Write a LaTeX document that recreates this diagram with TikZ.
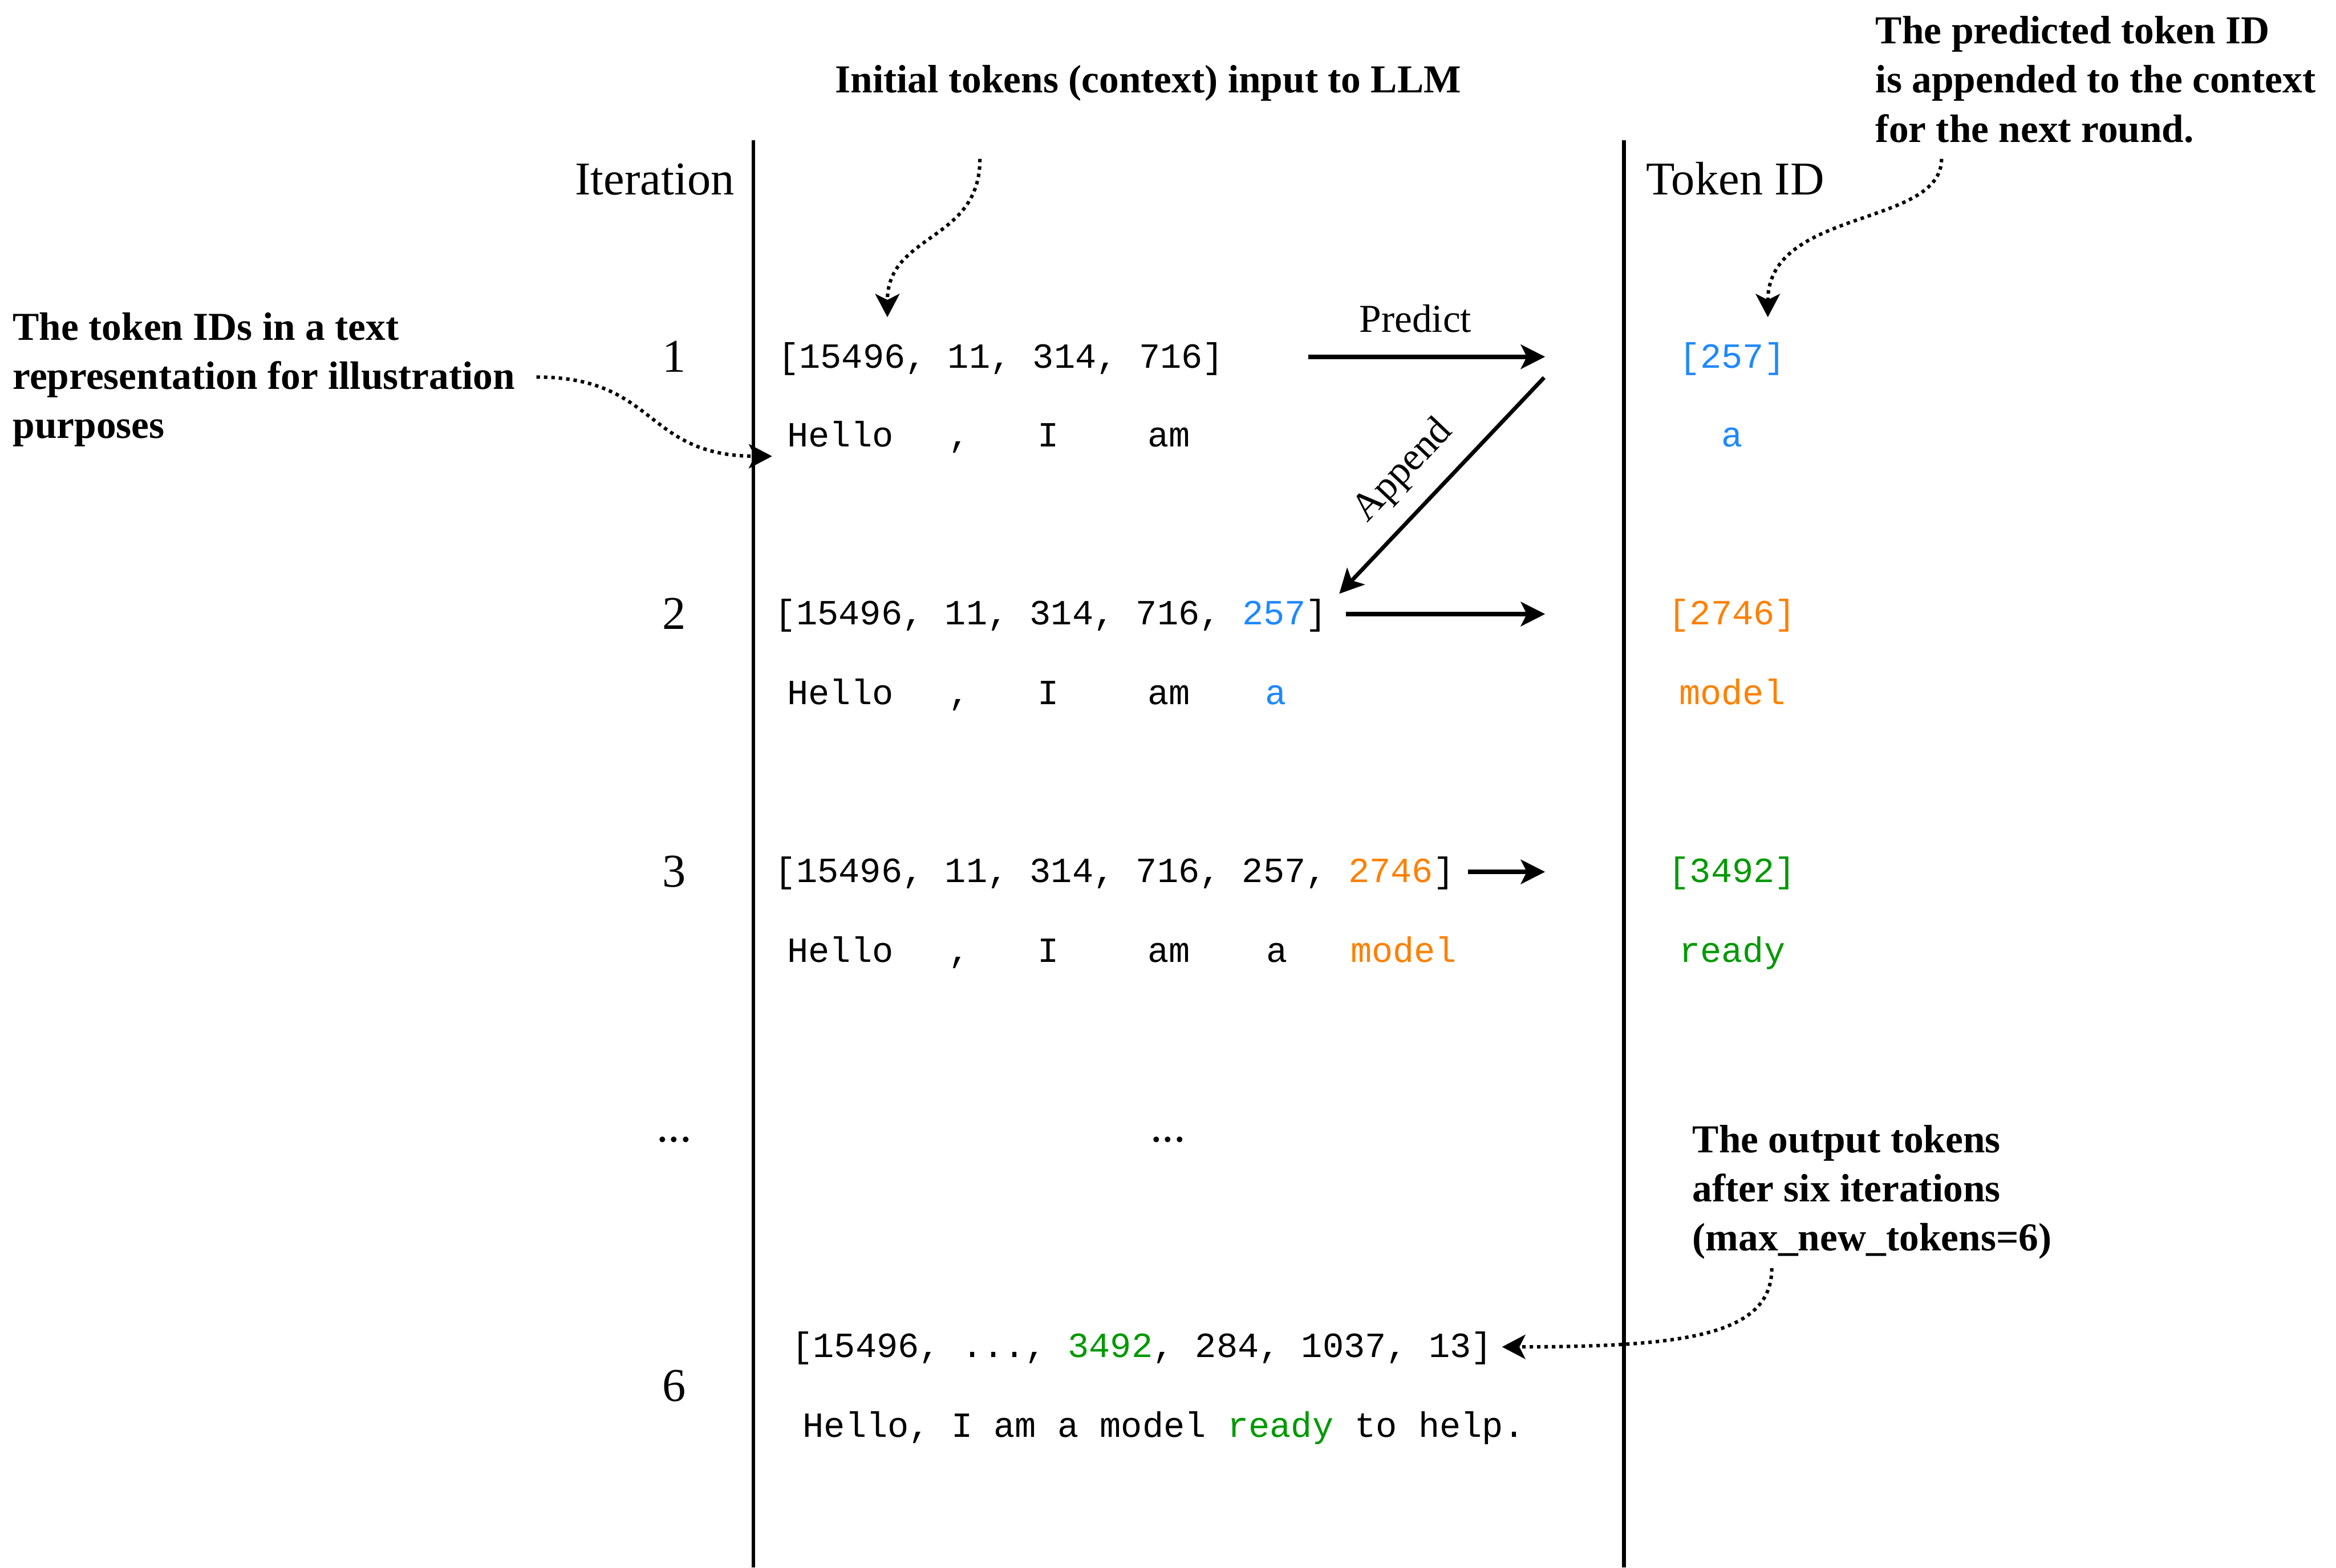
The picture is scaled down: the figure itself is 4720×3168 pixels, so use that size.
\documentclass[tikz,border=0pt]{standalone}
\usepackage{fontspec}
\setmainfont{Liberation Serif}
\setmonofont{Liberation Mono}
\usetikzlibrary{arrows.meta}
\definecolor{tblue}{RGB}{30,136,255}
\definecolor{torange}{RGB}{255,128,0}
\definecolor{tgreen}{RGB}{0,153,0}
\begin{document}
\frenchspacing
\begin{tikzpicture}[x=0.1pt,y=-0.1pt,
  every node/.style={inner sep=0pt, outer sep=0pt},
  head/.style={font=\fontsize{9.5}{11}\selectfont, anchor=base},
  headw/.style={font=\fontsize{9.5}{11}\selectfont, anchor=base west},
  ann/.style={font=\fontsize{8}{9.95}\selectfont\bfseries, anchor=base west},
  lbl/.style={font=\fontsize{8}{9.5}\selectfont},
  ids/.style={font=\fontsize{7.15}{8}\selectfont\ttfamily, anchor=base west},
  wd/.style={font=\fontsize{7.15}{8}\selectfont\ttfamily, anchor=base},
  arr/.style={-{Stealth[length=4.9pt,width=4.9pt,inset=1.2pt]}, line width=0.9pt},
  dotarr/.style={-{Stealth[length=4.7pt,width=4.9pt,inset=1.2pt]}, line width=0.7pt, dash pattern=on 0.7pt off 0.8pt},
  sep/.style={line width=0.75pt}
]
\useasboundingbox (0,0) rectangle (4720,3168);

% separators
\coordinate (lt) at (1522,283);
\coordinate (lb) at (1522,3168);
\coordinate (rt) at (3281,283);
\coordinate (rb) at (3281,3168);
\draw[sep] (lt) -- (lb);
\draw[sep] (rt) -- (rb);

% headers
\node[head] (iter) at (1323,393) {Iteration};
\node[headw] (tokid) at (3326,393) {Token ID};

% annotations
\node[ann] (initlbl) at (2320,187) [anchor=base] {Initial tokens (context) input to LLM};
\node[ann] (predlbl) at (3790,88) {\begin{tabular}[t]{@{}l@{}}The predicted token ID\\is appended to the context\\for the next round.\end{tabular}};
\node[ann] (textlbl) at (26,687) {\begin{tabular}[t]{@{}l@{}}The token IDs in a text\\representation for illustration\\purposes\end{tabular}};
\node[ann] (outlbl) at (3420,2329) {\begin{tabular}[t]{@{}l@{}}The output tokens\\after six iterations\\(max\_new\_tokens=6)\end{tabular}};

% iteration numbers
\node[head] (n1) at (1362,752) {1};
\node[head] (n2) at (1362,1272) {2};
\node[head] (n3) at (1362,1793) {3};
\node[head] (ndots) at (1362,2308) {...};
\node[head] (mdots) at (2360,2308) {...};
\node[head] (n6) at (1362,2832) {6};

% row 1
\node[ids] (r1ids) at (1572,744) {[15496, 11, 314, 716]};
\node[wd] (r1w1) at (1698,903) {Hello};
\node[wd] (r1w2) at (1938,903) {,};
\node[wd] (r1w3) at (2118,903) {I};
\node[wd] (r1w4) at (2362,903) {am};
\node[wd, text=tblue] (r1out) at (3500,744) {[257]};
\node[wd, text=tblue] (r1outw) at (3500,903) {a};

% row 2
\node[ids] (r2ids) at (1566,1262) {[15496, 11, 314, 716, \textcolor{tblue}{257}]};
\node[wd] (r2w1) at (1698,1424) {Hello};
\node[wd] (r2w2) at (1938,1424) {,};
\node[wd] (r2w3) at (2118,1424) {I};
\node[wd] (r2w4) at (2362,1424) {am};
\node[wd, text=tblue] (r2w5) at (2578,1424) {a};
\node[wd, text=torange] (r2out) at (3500,1262) {[2746]};
\node[wd, text=torange] (r2outw) at (3500,1424) {model};

% row 3
\node[ids] (r3ids) at (1566,1783) {[15496, 11, 314, 716, 257, \textcolor{torange}{2746}]};
\node[wd] (r3w1) at (1698,1945) {Hello};
\node[wd] (r3w2) at (1938,1945) {,};
\node[wd] (r3w3) at (2118,1945) {I};
\node[wd] (r3w4) at (2362,1945) {am};
\node[wd] (r3w5) at (2580,1945) {a};
\node[wd, text=torange] (r3w6) at (2836,1945) {model};
\node[wd, text=tgreen] (r3out) at (3500,1783) {[3492]};
\node[wd, text=tgreen] (r3outw) at (3500,1945) {ready};

% row 6
\node[ids] (r6ids) at (1600,2743) {[15496, ..., \textcolor{tgreen}{3492}, 284, 1037, 13]};
\node[ids] (r6txt) at (1622,2904) {Hello, I am a model \textcolor{tgreen}{ready} to help.};

% predict / append arrows
\coordinate (p1s) at (2643,721);
\coordinate (p1e) at (3122,721);
\draw[arr] (p1s) -- (p1e);
\node[lbl, anchor=base] (predict) at (2860,671) {Predict};

\coordinate (aps) at (3120,763);
\coordinate (ape) at (2706,1200);
\draw[arr, line width=0.8pt] (aps) -- (ape);
\node[lbl, rotate=46.5] (append) at (2836,952) {Append};

\coordinate (p2s) at (2720,1241);
\coordinate (p2e) at (3122,1241);
\draw[arr] (p2s) -- (p2e);

\coordinate (p3s) at (2966,1762);
\coordinate (p3e) at (3122,1762);
\draw[arr] (p3s) -- (p3e);

% dotted callouts
\coordinate (c1s) at (1980,321);
\coordinate (c1e) at (1793,641);
\draw[dotarr] (c1s) .. controls (1980,490) and (1793,470) .. (c1e);

\coordinate (c2s) at (3923,321);
\coordinate (c2e) at (3572,641);
\draw[dotarr] (c2s) .. controls (3923,460) and (3572,420) .. (c2e);

\coordinate (c3s) at (1084,762);
\coordinate (c3e) at (1560,922);
\draw[dotarr] (c3s) .. controls (1330,762) and (1300,922) .. (c3e);

\coordinate (c4s) at (3580,2563);
\coordinate (c4e) at (3035,2722);
\draw[dotarr] (c4s) .. controls (3580,2700) and (3400,2722) .. (c4e);
\end{tikzpicture}
\end{document}
